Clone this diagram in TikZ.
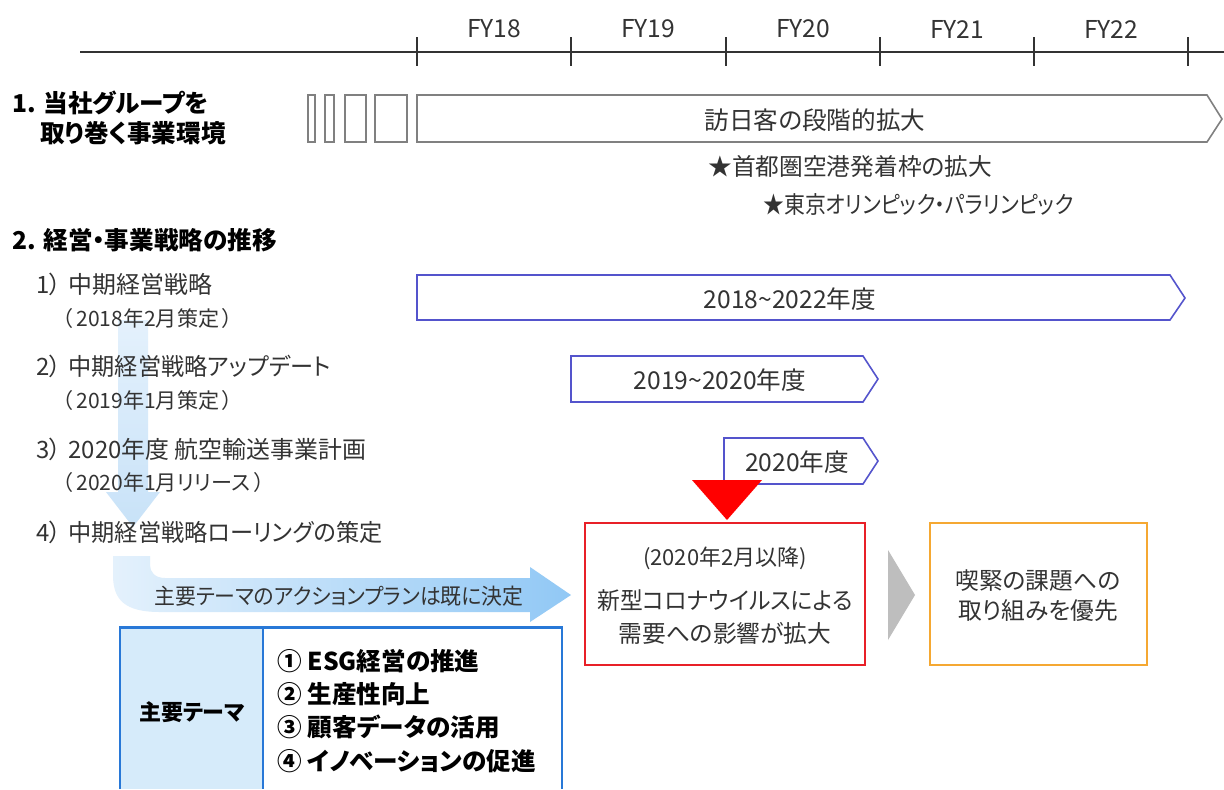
\documentclass[tikz,border=0pt]{standalone}
\usepackage{fontspec}
\usepackage{graphicx}
\setmainfont{Noto Sans CJK JP}[RawFeature=+palt]
\usetikzlibrary{positioning}

\definecolor{inkgray}{RGB}{51,51,51}
\definecolor{envgray}{RGB}{128,128,128}
\definecolor{planblue}{RGB}{84,84,204}
\definecolor{alertred}{RGB}{232,32,40}
\definecolor{prioorange}{RGB}{245,168,50}
\definecolor{themeblue}{RGB}{40,120,215}
\definecolor{themefill}{RGB}{214,235,250}
\definecolor{flowlight}{RGB}{228,241,252}
\definecolor{flowmid}{RGB}{200,226,248}
\definecolor{flowdark}{RGB}{145,200,245}
\definecolor{nextgray}{RGB}{190,190,190}

\tikzset{
  txt/.style={text=inkgray, inner sep=0pt, font=\fontsize{13}{15}\selectfont},
  bandtxt/.style={txt, font=\fontsize{14}{16}\selectfont},
  itemtxt/.style={txt, anchor=west, font=\fontsize{13.6}{16}\selectfont},
  subtxt/.style={txt, anchor=west, font=\fontsize{12}{14}\selectfont},
  headtxt/.style={inner sep=0pt, anchor=west, text=black, font=\fontsize{14}{16}\selectfont\bfseries},
  themetxt/.style={inner sep=0pt, anchor=west, text=black, font=\fontsize{14}{16}\selectfont\bfseries},
  envbar/.style={draw=envgray, line width=0.9pt, fill=white},
  planbar/.style={draw=planblue, line width=0.9pt, fill=white},
}

\begin{document}
\begin{tikzpicture}[x=0.02cm, y=-0.02cm]
  \useasboundingbox[fill=white] (0,0) rectangle (1224,789);

  % time axis
  \draw[inkgray, line width=1.1pt] (80,52) -- (1224,52);
  \foreach \x/\fy in {417/18, 571/19, 726/20, 880/21, 1034/22} {
    \draw[inkgray, line width=0.9pt] (\x,37) -- (\x,66);
    \node[txt, font=\fontsize{14}{16}\selectfont] (fy\fy) at (\x+77,29) {FY\fy};
  }
  \draw[inkgray, line width=0.9pt] (1188,37) -- (1188,66);

  % 1. business environment
  \node[headtxt] (sec1) at (12,103) {1. 当社グループを};
  \node[headtxt] (sec1b) at (40,133) {取り巻く事業環境};
  \foreach \a/\b in {308/315, 325/334, 345/366, 375/407}
    \draw[envbar] (\a,95) rectangle (\b,142);
  \draw[envbar] (417,95) -- (1207,95) -- (1222,119) -- (1207,142) -- (417,142) -- cycle;
  \node[txt, font=\fontsize{14}{16}\selectfont] (inbound) at (815,120) {訪日客の段階的拡大};
  \node[txt, anchor=west, font=\fontsize{13.5}{16}\selectfont] (slots) at (708,166) {★首都圏空港発着枠の拡大};
  \node[txt, anchor=west, font=\fontsize{13.5}{16}\selectfont] (games) at (763,204) {\scalebox{0.88}[1]{★東京オリンピック・パラリンピック}};

  % 2. strategy
  \node[headtxt] (sec2) at (12,240) {2. 経営・事業戦略の推移};

  % flow arrow down the list
  \shade[top color=flowlight, bottom color=flowmid]
    (118,320) -- (148,320) -- (148,492) -- (160,492) -- (133,527) -- (106,492) -- (118,492) -- cycle;
  \shade[left color=flowlight, right color=flowdark]
    (113,556) -- (113,575) .. controls (113,600) and (125,612) .. (160,612) -- (530,612)
    -- (530,622) -- (571,595) -- (530,567) -- (530,578) -- (165,578)
    .. controls (155,578) and (150,572) .. (150,565) -- (150,556) -- cycle;

  \node[itemtxt] (plan1) at (36,284) {1）\hspace{4pt}中期経営戦略};
  \node[subtxt] (plan1d) at (62,318) {（\hspace{2pt}2018年2月策定\hspace{2pt}）};
  \node[itemtxt] (plan2) at (36,366) {2）\hspace{4pt}\scalebox{0.97}[1]{中期経営戦略アップデート}};
  \node[subtxt] (plan2d) at (62,400) {（\hspace{2pt}2019年1月策定\hspace{2pt}）};
  \node[itemtxt] (plan3) at (36,449) {3）\hspace{4pt}2020年度 航空輸送事業計画};
  \node[subtxt] (plan3d) at (62,482) {（\hspace{2pt}2020年1月リリース\hspace{2pt}）};
  \node[itemtxt] (plan4) at (36,532) {4）\hspace{4pt}\scalebox{0.97}[1]{中期経営戦略ローリングの策定}};
  \node[txt, font=\fontsize{12.5}{15}\selectfont] (action) at (339,596) {\scalebox{0.95}[1]{主要テーマのアクションプランは既に決定}};

  % plan periods
  \draw[planbar] (417,275) -- (1170,275) -- (1185,298) -- (1170,320) -- (417,320) -- cycle;
  \node[bandtxt] (span1) at (790,299) {2018\textasciitilde 2022年度};
  \draw[planbar] (571,356) -- (863,356) -- (878,379) -- (863,402) -- (571,402) -- cycle;
  \node[bandtxt] (span2) at (720,380) {2019\textasciitilde 2020年度};
  \draw[planbar] (724,438) -- (863,438) -- (878,461) -- (863,484) -- (724,484) -- cycle;
  \node[bandtxt] (span3) at (797,462) {2020年度};

  % covid impact
  \fill[red] (692,480) -- (762,480) -- (727,520) -- cycle;
  \draw[alertred, line width=1.2pt] (585,523) rectangle (865,665);
  \node[txt, font=\fontsize{12.5}{14}\selectfont] (covid0) at (725,558) {(2020年2月以降)};
  \node[txt, font=\fontsize{13.5}{16}\selectfont] (covid1) at (725,601) {\scalebox{0.96}[1]{新型コロナウイルスによる}};
  \node[txt, font=\fontsize{13.5}{16}\selectfont] (covid2) at (725,633) {需要への影響が拡大};
  \fill[nextgray] (888,550) -- (915,595) -- (888,640) -- cycle;
  \draw[prioorange, line width=1.2pt] (930,523) rectangle (1147,665);
  \node[txt, font=\fontsize{13.5}{16}\selectfont] (prio1) at (1038,581) {喫緊の課題への};
  \node[txt, font=\fontsize{13.5}{16}\selectfont] (prio2) at (1038,611) {取り組みを優先};

  % key themes
  \fill[themefill] (120,627) rectangle (263,789);
  \draw[themeblue, line width=1.7pt] (120,789) -- (120,627) -- (562,627) -- (562,789);
  \draw[themeblue, line width=1.7pt] (263,627) -- (263,789);
  \node[themetxt, anchor=center, font=\fontsize{12.5}{15}\selectfont\bfseries] (themes) at (192,712) {主要テーマ};
  \node[themetxt] (theme1) at (277,661) {① ESG経営の推進};
  \node[themetxt] (theme2) at (277,694) {② 生産性向上};
  \node[themetxt] (theme3) at (277,727) {③ 顧客データの活用};
  \node[themetxt] (theme4) at (277,761) {④ イノベーションの促進};
\end{tikzpicture}
\end{document}
